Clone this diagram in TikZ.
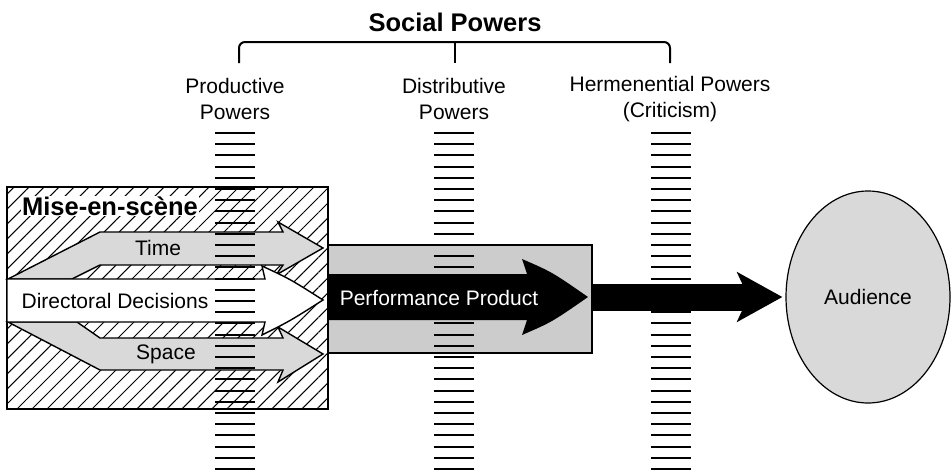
\documentclass[tikz,border=0pt]{standalone}
\usepackage{fontspec}
\setmainfont{Liberation Sans}
\usetikzlibrary{%
  arrows.meta,%
  patterns.meta,%
  shapes.geometric%
}
\tikzset{>=latex}
\tikzset{lbl/.style={font=\fontsize{21}{26}\selectfont, align=center, inner sep=0pt},
  boldlbl/.style={font=\fontsize{25.5}{30}\selectfont\bfseries, inner sep=1pt},
  brace/.style={line width=2pt, rounded corners=6pt},
  hatched/.style={draw, line width=1.4pt,
    pattern={Lines[angle=45, distance=10.6pt, line width=1pt]}},
  productbox/.style={draw, line width=2pt, fill=black!20, inner sep=0pt,
    minimum width=264pt, minimum height=108pt},
  greyarrow/.style={draw, line width=1.4pt, fill=black!15, line join=miter},
  whitearrow/.style={draw, line width=1.4pt, fill=white, line join=miter},
  rung/.style={line width=2pt},
  audience/.style={ellipse, draw, line width=1.2pt, fill=black!15, inner sep=0pt,
    minimum width=164pt, minimum height=212pt}}

\begin{document}
\begin{tikzpicture}[x=1pt,y=-1pt]
  \useasboundingbox (0,0) rectangle (952,471);
  % social powers
  \node[boldlbl] (social) at (455,22) {Social Powers};
  \draw[brace] (239,63) |- (670,42) -- (670,63);
  \draw[brace] (455,42) -- (455,63);
  \node[lbl] (prod) at (235,99) {Productive\\Powers};
  \node[lbl] (dist) at (454,99) {Distributive\\Powers};
  \node[lbl] (herm) at (670,99) {Hermenential Powers\\(Criticism)};
  % mise-en-scene
  \draw[hatched] (7,187) rectangle (328,409);
  \node[productbox] (box) at (460,299) {};
  \draw[greyarrow] (8,279) -- (100,232) -- (283,232) -- (278,222) -- (323,248)
    -- (276,275) -- (283,265) -- (100,265) -- (72,279) -- cycle;
  \draw[greyarrow] (8,322) -- (100,370) -- (283,370) -- (278,382) -- (323,354)
    -- (278,327) -- (283,338) -- (100,338) -- (77,322) -- cycle;
  \draw[whitearrow] (7,279) -- (265,279) -- (262,266) .. controls (290,279) .. (323,300)
    .. controls (290,321) .. (262,335) -- (265,322) -- (7,322) -- cycle;
  \node[boldlbl, fill=white] (mise) at (110,206) {Mise-en-scène};
  \node[lbl] (time) at (158,248) {Time};
  \node[lbl] (dir) at (115,301) {Directoral Decisions};
  \node[lbl] (space) at (166,354) {Space};
  % ladders
  \foreach \x in {235,454,671}
    \foreach \i in {0,...,30}
      \draw[rung] (\x-20,133+11.2*\i) -- ++(40,0);
  % performance product
  \fill (328,274) -- (527,274) -- (522,259) .. controls (552,272) .. (588,297)
    .. controls (552,322) .. (522,335) -- (527,320) -- (328,320) -- cycle;
  \node[lbl, white] (perf) at (439,298) {Performance Product};
  \node[audience] (aud) at (868,297) {};
  \node[lbl] (audtext) at (aud) {Audience};
  \draw[line width=27pt, -{Stealth[length=45pt, width=49pt, inset=11pt]}]
    (box.east |- aud.west) -- ([xshift=-3pt]aud.west);
\end{tikzpicture}
\end{document}
